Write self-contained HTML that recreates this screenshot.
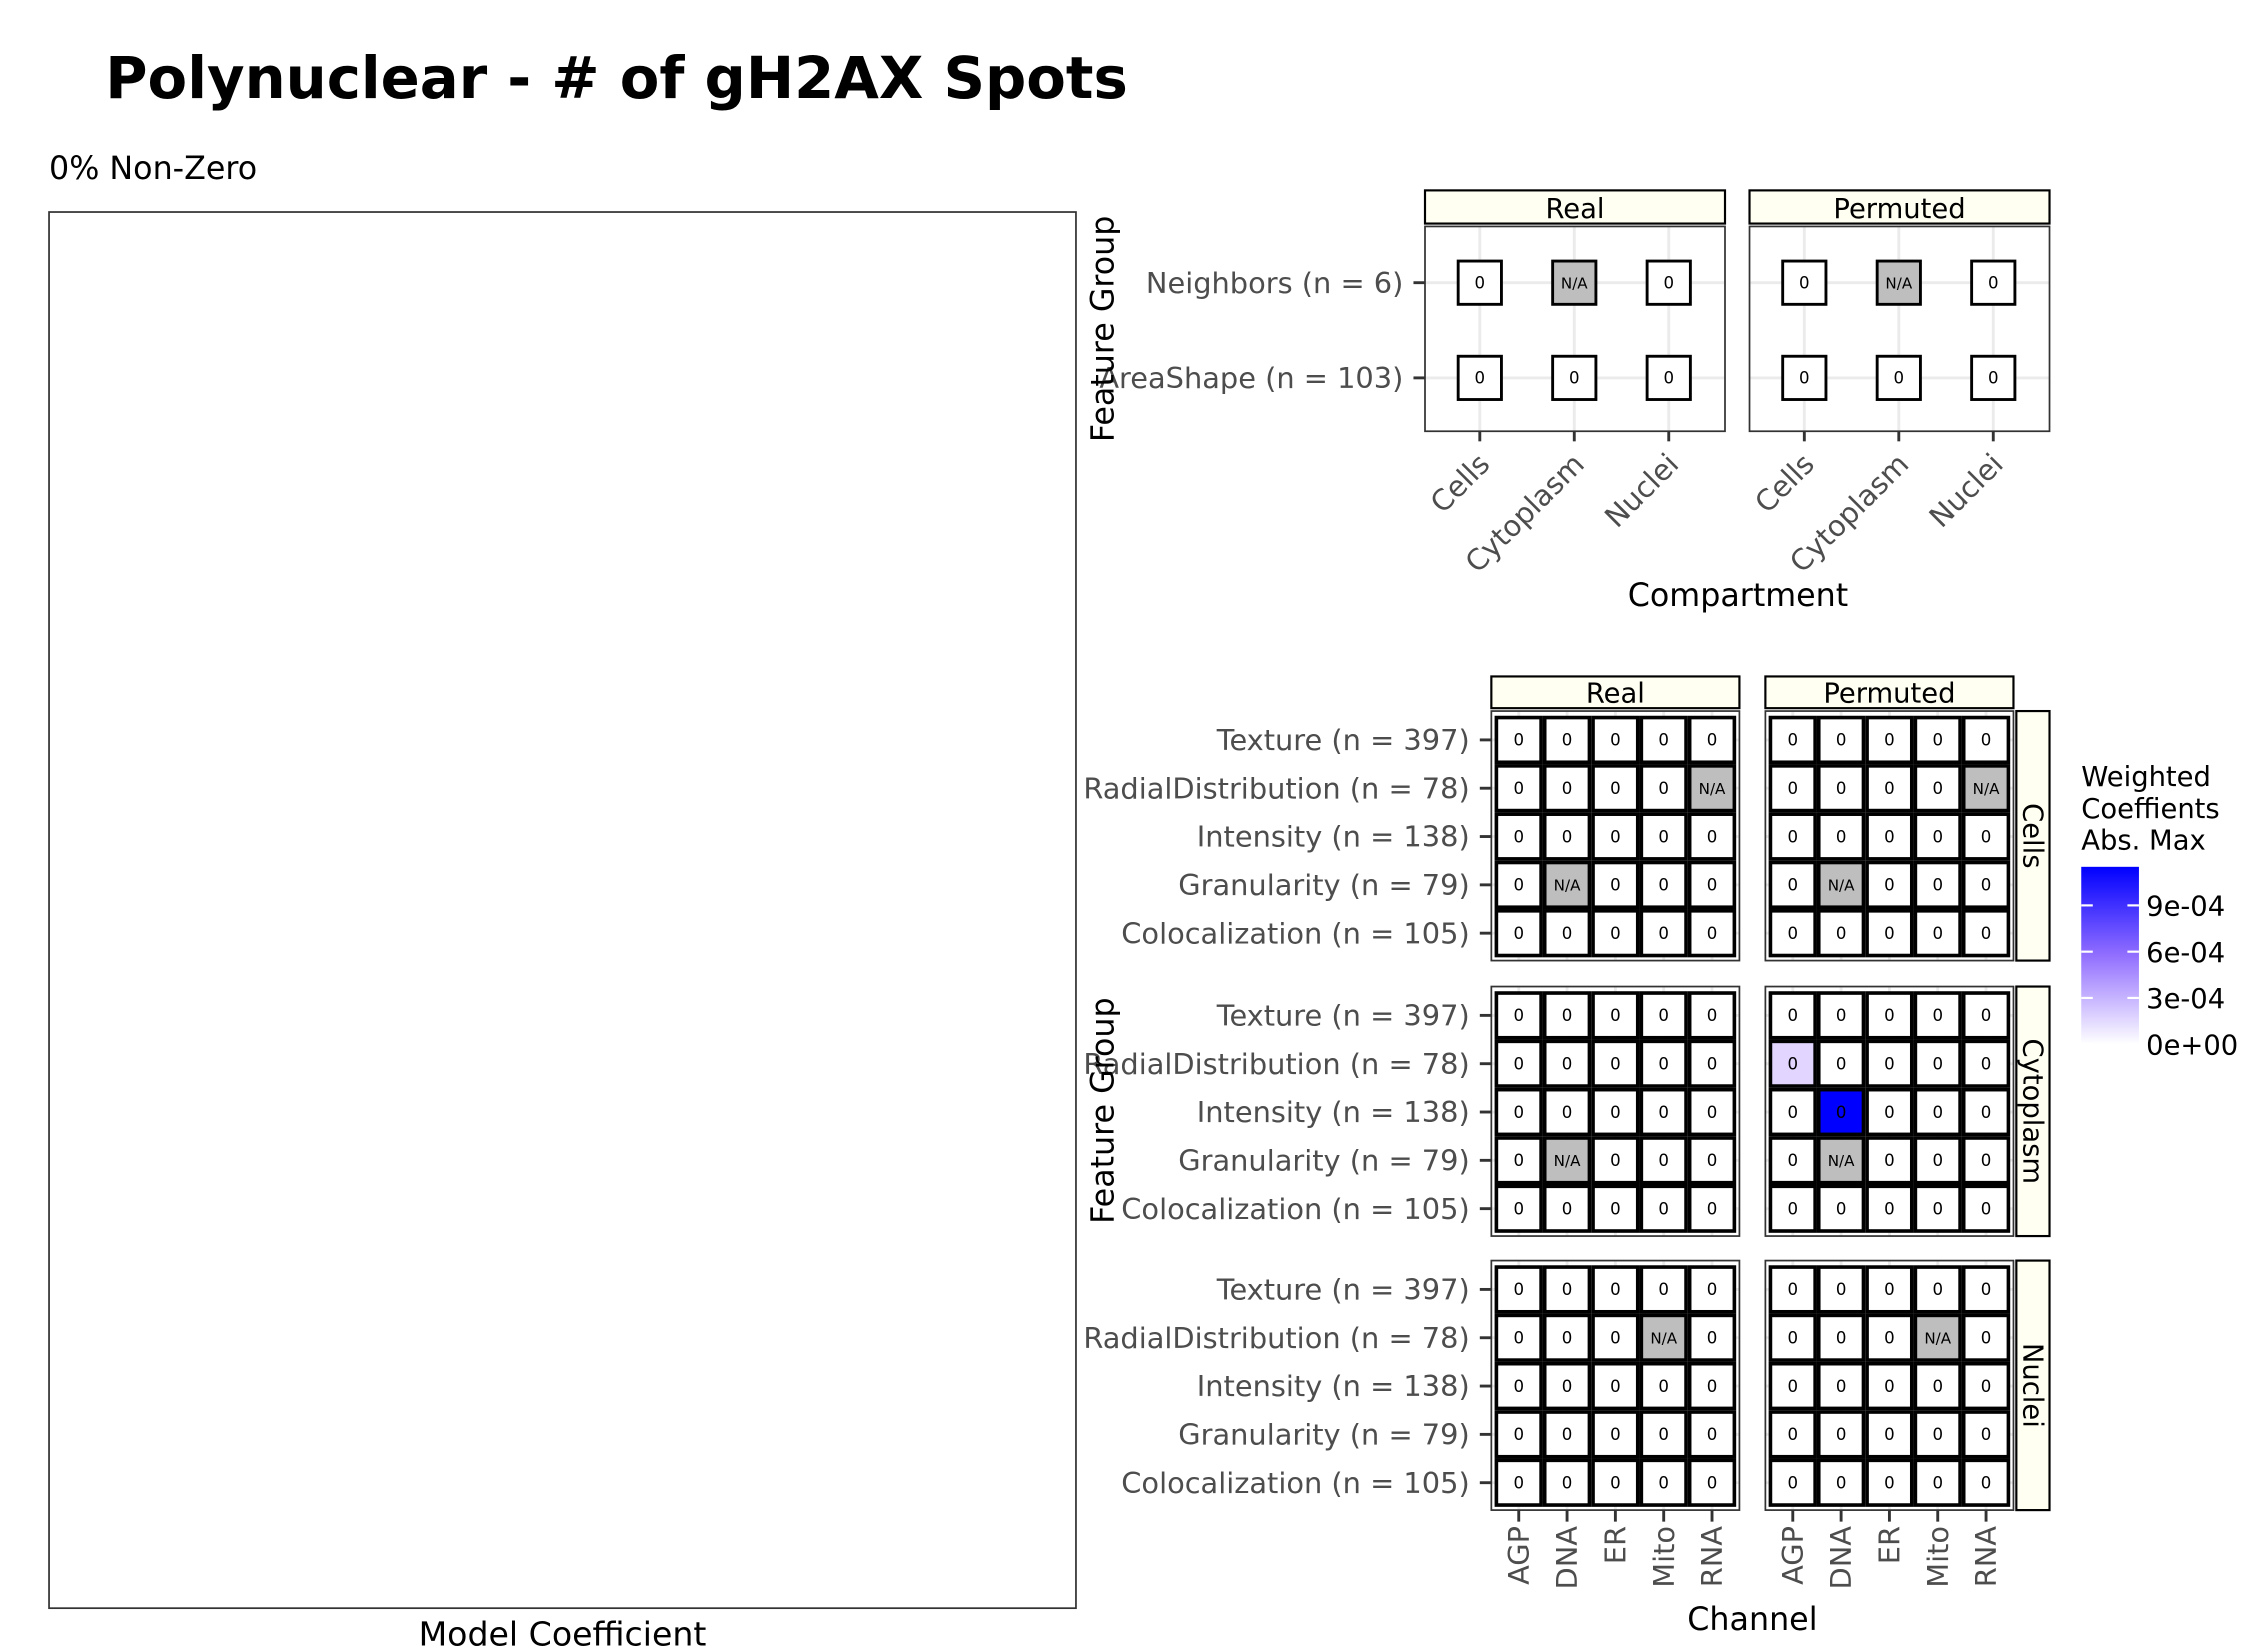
<!DOCTYPE html>
<html><head><meta charset="utf-8"><style>
html,body{margin:0;padding:0;background:#fff;}
svg{display:block;font-family:"DejaVu Sans","Liberation Sans",sans-serif;}
</style></head><body>
<svg id="chart" width="2250" height="1650" viewBox="0 0 1560 1144" xmlns="http://www.w3.org/2000/svg">
<rect width="1560" height="1144" fill="#fff"/>
<text x="73" y="68" font-size="40" font-weight="bold" fill="#000">Polynuclear - # of gH2AX Spots</text>
<text x="34" y="124" font-size="22" fill="#000">0% Non-Zero</text>
<rect x="34" y="147" width="712" height="968" fill="#fff" stroke="#333" stroke-width="1.2"/>
<text x="390" y="1141" font-size="23" text-anchor="middle" fill="#000">Model Coefficient</text>
<g id="topG"></g>
<g id="bottomG"></g>
<g id="legendG"></g>
</svg>
<script>
const NS="http://www.w3.org/2000/svg";
const shuffles=["Real","Permuted"];
const topRows=["Neighbors (n = 6)","AreaShape (n = 103)"];
const topCols=["Cells","Cytoplasm","Nuclei"];
// top values [row][col]; null = N/A
const topReal=[[0,null,0],[0,0,0]];
const topPerm=[[0,null,0],[0,0,0]];
const compartments=["Cells","Cytoplasm","Nuclei"];
const channels=["AGP","DNA","ER","Mito","RNA"];
const groups=["Texture (n = 397)","RadialDistribution (n = 78)","Intensity (n = 138)","Granularity (n = 79)","Colocalization (n = 105)"];
// bottom values [group][channel]
const realCells=[[0,0,0,0,0],[0,0,0,0,null],[0,0,0,0,0],[0,null,0,0,0],[0,0,0,0,0]];
const permCells=[[0,0,0,0,0],[0,0,0,0,null],[0,0,0,0,0],[0,null,0,0,0],[0,0,0,0,0]];
const realCyto=[[0,0,0,0,0],[0,0,0,0,0],[0,0,0,0,0],[0,null,0,0,0],[0,0,0,0,0]];
const permCyto=[[0,0,0,0,0],[0.00016,0,0,0,0],[0,0.00115,0,0,0],[0,null,0,0,0],[0,0,0,0,0]];
const realNuc=[[0,0,0,0,0],[0,0,0,null,0],[0,0,0,0,0],[0,0,0,0,0],[0,0,0,0,0]];
const permNuc=[[0,0,0,0,0],[0,0,0,null,0],[0,0,0,0,0],[0,0,0,0,0],[0,0,0,0,0]];
const legendTicks=[0,0.0003,0.0006,0.0009];
const legendLabels=["0e+00","3e-04","6e-04","9e-04"];
const legendMax=0.00115;

function el(tag,attrs,parent,text){const e=document.createElementNS(NS,tag);for(const k in attrs)e.setAttribute(k,attrs[k]);if(text!==undefined)e.textContent=text;parent.appendChild(e);return e;}
function fillOf(v){if(v===null)return "#bebebe";const t=Math.max(0,Math.min(1,v/legendMax));const r=Math.round(255*Math.pow(1-t,0.8)),g=Math.round(255*Math.pow(1-t,1.2));return `rgb(${r},${g},255)`;}

const TICK=20;
// ---- top heatmap
const topG=document.getElementById('topG');
const tPanels=[{x:988,vals:topReal},{x:1213,vals:topPerm}];
const tY0=157,tH=142,tW=208;
function tColX(px,i){return px+38+i*65.5;}
function tRowY(j){return tY0+39+j*66;}
tPanels.forEach((p,pi)=>{
  const s=el('rect',{x:p.x,y:132,width:tW,height:23,fill:'#fffff2',stroke:'#000','stroke-width':1.5},topG);
  
  
  el('text',{x:p.x+tW/2,y:151,'font-size':19,'text-anchor':'middle'},topG,shuffles[pi]);
  const pr=el('rect',{x:p.x,y:tY0,width:tW,height:tH,fill:'#fff',stroke:'none'},topG);
  
  
  topCols.forEach((c,i)=>el('line',{x1:tColX(p.x,i),x2:tColX(p.x,i),y1:tY0,y2:tY0+tH,stroke:'#ebebeb','stroke-width':2},topG));
  topRows.forEach((r,j)=>el('line',{x1:p.x,x2:p.x+tW,y1:tRowY(j),y2:tRowY(j),stroke:'#ebebeb','stroke-width':2},topG));
  topRows.forEach((r,j)=>topCols.forEach((c,i)=>{
    const v=p.vals[j][i];
    const t=el('rect',{x:tColX(p.x,i)-15,y:tRowY(j)-15,width:30,height:30,fill:fillOf(v),stroke:'#000','stroke-width':2},topG);
    
    
    el('text',{x:tColX(p.x,i),y:tRowY(j)+4,'font-size':v===null?10.5:11.5,'text-anchor':'middle'},topG,v===null?'N/A':'0');
  }));
  el('rect',{x:p.x,y:tY0,width:tW,height:tH,fill:'none',stroke:'#333','stroke-width':1.2},topG);
  topCols.forEach((c,i)=>{
    const x=tColX(p.x,i);
    el('line',{x1:x,x2:x,y1:tY0+tH,y2:tY0+tH+7,stroke:'#333','stroke-width':2},topG);
    const lt=el('text',{x:x+8,y:tY0+tH+24,'font-size':TICK,fill:'#4d4d4d','text-anchor':'end',transform:`rotate(-45 ${x+8} ${tY0+tH+24})`},topG,c);
    
    
  });
});
topRows.forEach((r,j)=>{
  el('line',{x1:980,x2:988,y1:tRowY(j),y2:tRowY(j),stroke:'#333','stroke-width':2},topG);
  const lt=el('text',{x:973,y:tRowY(j)+7,'font-size':TICK,fill:'#4d4d4d','text-anchor':'end'},topG,r);
  
  
});
el('text',{x:1205,y:420,'font-size':22,'text-anchor':'middle',},topG,'Compartment');
el('text',{x:772,y:228,'font-size':22,'text-anchor':'middle',transform:'rotate(-90 772 228)',},topG,'Feature Group');

// ---- bottom heatmap
const bot=document.getElementById('bottomG');
const bX=[1034,1224],bW=172,bH=173;
const bY=[493,684,874];
const bVals=[[realCells,permCells],[realCyto,permCyto],[realNuc,permNuc]];
function bColX(px,i){return px+19+i*33.5;}
function bRowY(py,j){return py+20+j*33.5;}
shuffles.forEach((s,si)=>{
  const st=el('rect',{x:bX[si],y:469,width:bW,height:22,fill:'#fffff2',stroke:'#000','stroke-width':1.5},bot);
  
  
  el('text',{x:bX[si]+bW/2,y:487,'font-size':19,'text-anchor':'middle'},bot,s);
});
compartments.forEach((comp,ci)=>{
  const py=bY[ci];
  shuffles.forEach((s,si)=>{
    const px=bX[si];
    const pr=el('rect',{x:px,y:py,width:bW,height:bH,fill:'#fff'},bot);
    
    
    channels.forEach((c,i)=>el('line',{x1:bColX(px,i),x2:bColX(px,i),y1:py,y2:py+bH,stroke:'#ebebeb','stroke-width':2},bot));
    groups.forEach((g,j)=>el('line',{x1:px,x2:px+bW,y1:bRowY(py,j),y2:bRowY(py,j),stroke:'#ebebeb','stroke-width':2},bot));
    const vals=bVals[ci][si];
    groups.forEach((g,j)=>channels.forEach((c,i)=>{
      const v=vals[j][i];
      const t=el('rect',{x:bColX(px,i)-15.5,y:bRowY(py,j)-15.5,width:31,height:31,fill:fillOf(v),stroke:'#000','stroke-width':2.5},bot);
      
      
      el('text',{x:bColX(px,i),y:bRowY(py,j)+4,'font-size':v===null?10.5:11.5,'text-anchor':'middle'},bot,v===null?'N/A':'0');
    }));
    el('rect',{x:px,y:py,width:bW,height:bH,fill:'none',stroke:'#333','stroke-width':1.2},bot);
  });
  const rs=el('rect',{x:1398,y:py,width:23,height:bH,fill:'#fffff2',stroke:'#000','stroke-width':1.5},bot);
  
  
  el('text',{x:1403,y:py+bH/2,'font-size':19,'text-anchor':'middle',transform:`rotate(90 1403 ${py+bH/2})`},bot,comp);
  groups.forEach((g,j)=>{
    const y=bRowY(py,j);
    el('line',{x1:1026,x2:1034,y1:y,y2:y,stroke:'#333','stroke-width':2},bot);
    const lt=el('text',{x:1019,y:y+7,'font-size':TICK,fill:'#4d4d4d','text-anchor':'end'},bot,g);
    
    
  });
});
shuffles.forEach((s,si)=>channels.forEach((c,i)=>{
  const x=bColX(bX[si],i),y0=874+bH;
  el('line',{x1:x,x2:x,y1:y0,y2:y0+8,stroke:'#333','stroke-width':2},bot);
  const lt=el('text',{x:x+7,y:y0+11,'font-size':TICK,fill:'#4d4d4d','text-anchor':'end',transform:`rotate(-90 ${x+7} ${y0+11})`},bot,c);
  
  
}));
el('text',{x:1215,y:1130,'font-size':22,'text-anchor':'middle',},bot,'Channel');
el('text',{x:772,y:770,'font-size':22,'text-anchor':'middle',transform:'rotate(-90 772 770)',},bot,'Feature Group');

// ---- legend
const lg=document.getElementById('legendG');
['Weighted','Coeffients','Abs. Max'].forEach((t,k)=>el('text',{x:1443,y:545+k*22,'font-size':19},lg,t));
const defs=el('defs',{},lg);
const gr=el('linearGradient',{id:'lgr',x1:0,y1:1,x2:0,y2:0},defs);
el('stop',{offset:0,'stop-color':'#ffffff'},gr);
el('stop',{offset:0.5,'stop-color':fillOf(legendMax/2)},gr);
el('stop',{offset:1,'stop-color':'#0000ff'},gr);
const barTop=601,barBot=724;
const cb=el('rect',{x:1443,y:barTop,width:40,height:barBot-barTop,fill:'url(#lgr)'},lg);


function ly(v){return barBot-(v/legendMax)*(barBot-barTop);}
legendTicks.forEach((v,k)=>{
  const y=ly(v);
  el('line',{x1:1443,x2:1451,y1:y,y2:y,stroke:'#fff','stroke-width':1.5},lg);
  el('line',{x1:1475,x2:1483,y1:y,y2:y,stroke:'#fff','stroke-width':1.5},lg);
  const lt=el('text',{x:1488,y:y+7,'font-size':19},lg,legendLabels[k]);
  
  
});
</script>
</body></html>
